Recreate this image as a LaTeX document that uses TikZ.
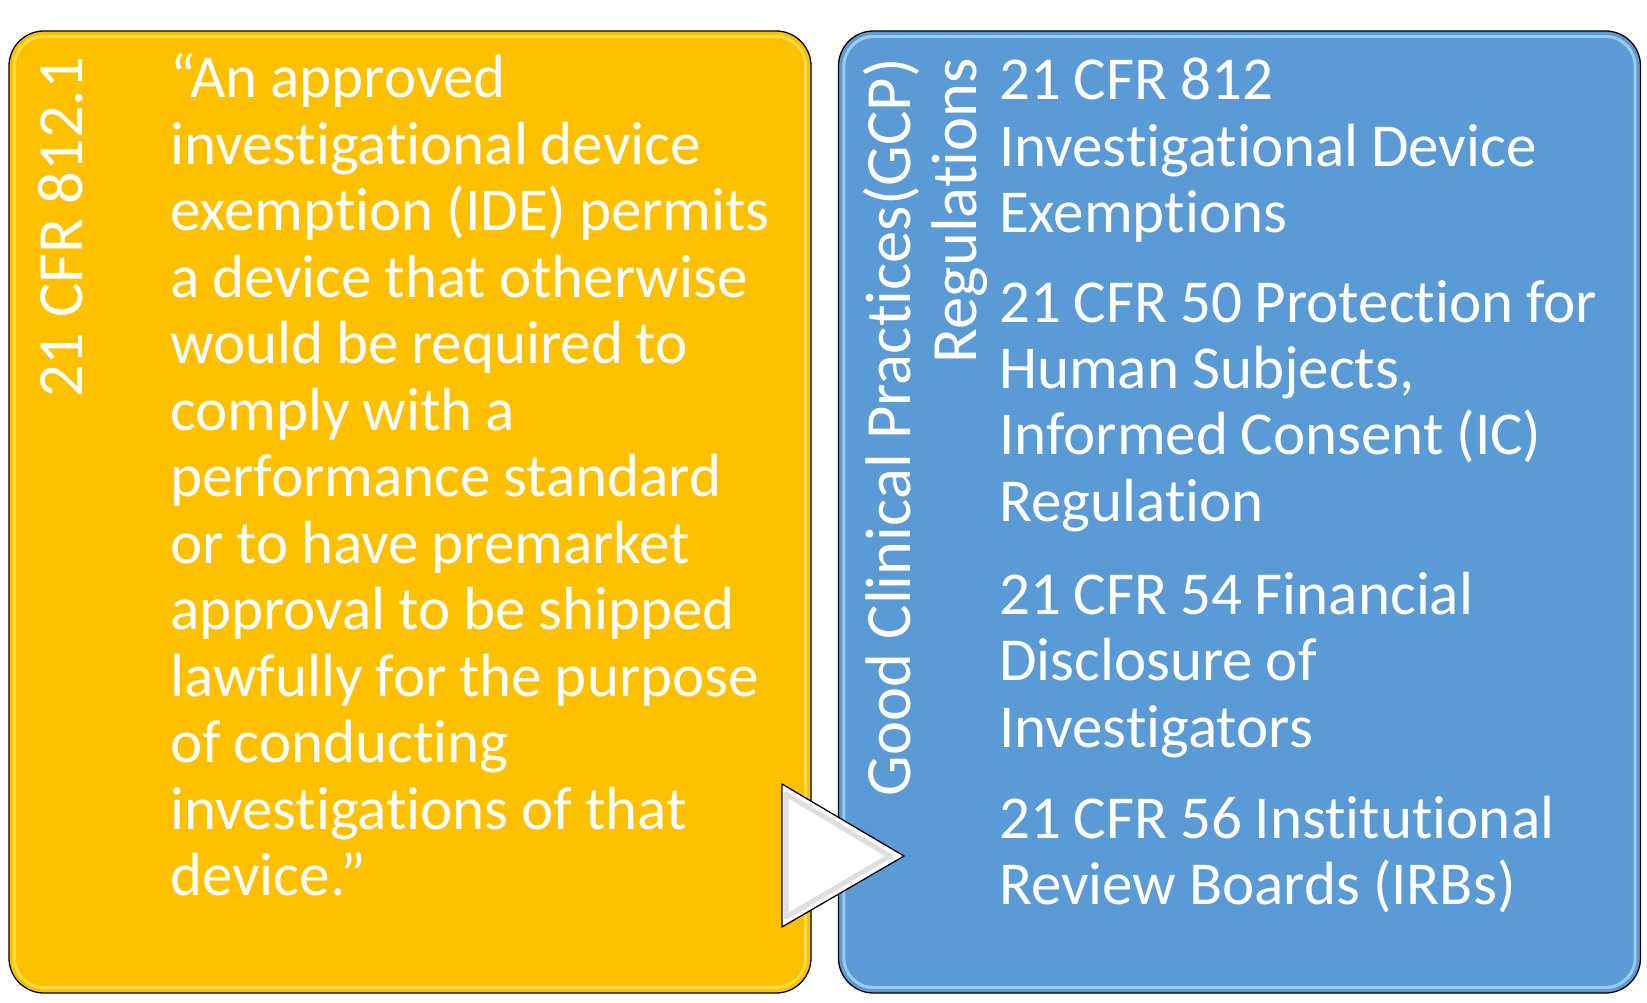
\documentclass[tikz,border=0pt]{standalone}
\usepackage{fontspec}
\setmainfont{Carlito}[Ligatures=NoCommon]
\usepackage{tikz}
\usetikzlibrary{positioning, calc}
\definecolor{gold}{HTML}{FFC000}
\definecolor{goldglow}{HTML}{FFF27A}
\definecolor{sky}{HTML}{5B9BD5}
\definecolor{skyglow}{HTML}{C8E8FF}
\newcommand\tightspace{\setlength{\spaceskip}{0.21em}}

\begin{document}
\begin{tikzpicture}[x=1pt,y=-1pt,
	box/.style={draw=black,line width=1.3pt,rounded corners=35pt,inner sep=0pt,
		minimum width=802pt,minimum height=962pt},
	glow/.style={draw=#1,line width=3pt,rounded corners=30pt,opacity=0.6},
	body/.style={text=white,font=\fontsize{61}{66.5}\selectfont,
		execute at begin node=\tightspace,
		inner sep=0pt,text width=640pt,anchor=base west},
	side/.style={text=white,font=\fontsize{64.5}{66}\selectfont,inner sep=0pt,
		rotate=90,anchor=base east},
	pointer/.style={draw=black,line width=1.3pt,line join=round,fill=white},
	bevel/.style={draw=gray!35,line width=5pt,line join=round,opacity=0.7}]
	
	\useasboundingbox (0,0) rectangle (1647,1003);
	
	% the two panels
	\node[box,fill=gold] (dev) at (410,512) {};
	\node[box,fill=sky] (gcp) at (1239.5,512) {};
	\draw[glow=goldglow] ($(dev.north west)+(6,6)$) rectangle ($(dev.south east)+(-6,-6)$);
	\draw[glow=skyglow] ($(gcp.north west)+(6,6)$) rectangle ($(gcp.south east)+(-6,-6)$);
	
	% left panel
	\node[side] (rule) at (82,57) {21 CFR 812.1};
	\node[body] (quote) at (170,98) {“An approved\\investigational device\\exemption (IDE) permits\\a device that otherwise\\would be required to\\comply with a\\performance standard\\or to have premarket\\approval to be shipped\\lawfully for the purpose\\of conducting\\investigations of that\\device.”};
	
	% right panel
	\node[side] (gcpA) at (910,58) {Good Clinical Practices(GCP)};
	\node[side] (gcpB) at (976,58) {Regulations};
	\node[body] (p812) at (999,100) {21 CFR 812\\Investigational Device\\Exemptions};
	\node[body] (p50) at (999,322) {21 CFR 50 Protection for\\Human Subjects,\\Informed Consent (IC)\\Regulation};
	\node[body] (p54) at (999,614) {21 CFR 54 Financial\\Disclosure of\\Investigators};
	\node[body] (p56) at (999,838) {21 CFR 56 Institutional\\Review Boards (IRBs)};
	
	% arrow between panels
	\coordinate (triA) at (782,784);
	\coordinate (triB) at (782,927);
	\coordinate (triC) at (904,856);
	\draw[pointer] (triA) -- (triB) -- (triC) -- cycle;
	\draw[bevel] ($(triA)+(4,10)$) -- ($(triB)+(4,-10)$) -- ($(triC)+(-14,0)$) -- cycle;
\end{tikzpicture}
\end{document}
